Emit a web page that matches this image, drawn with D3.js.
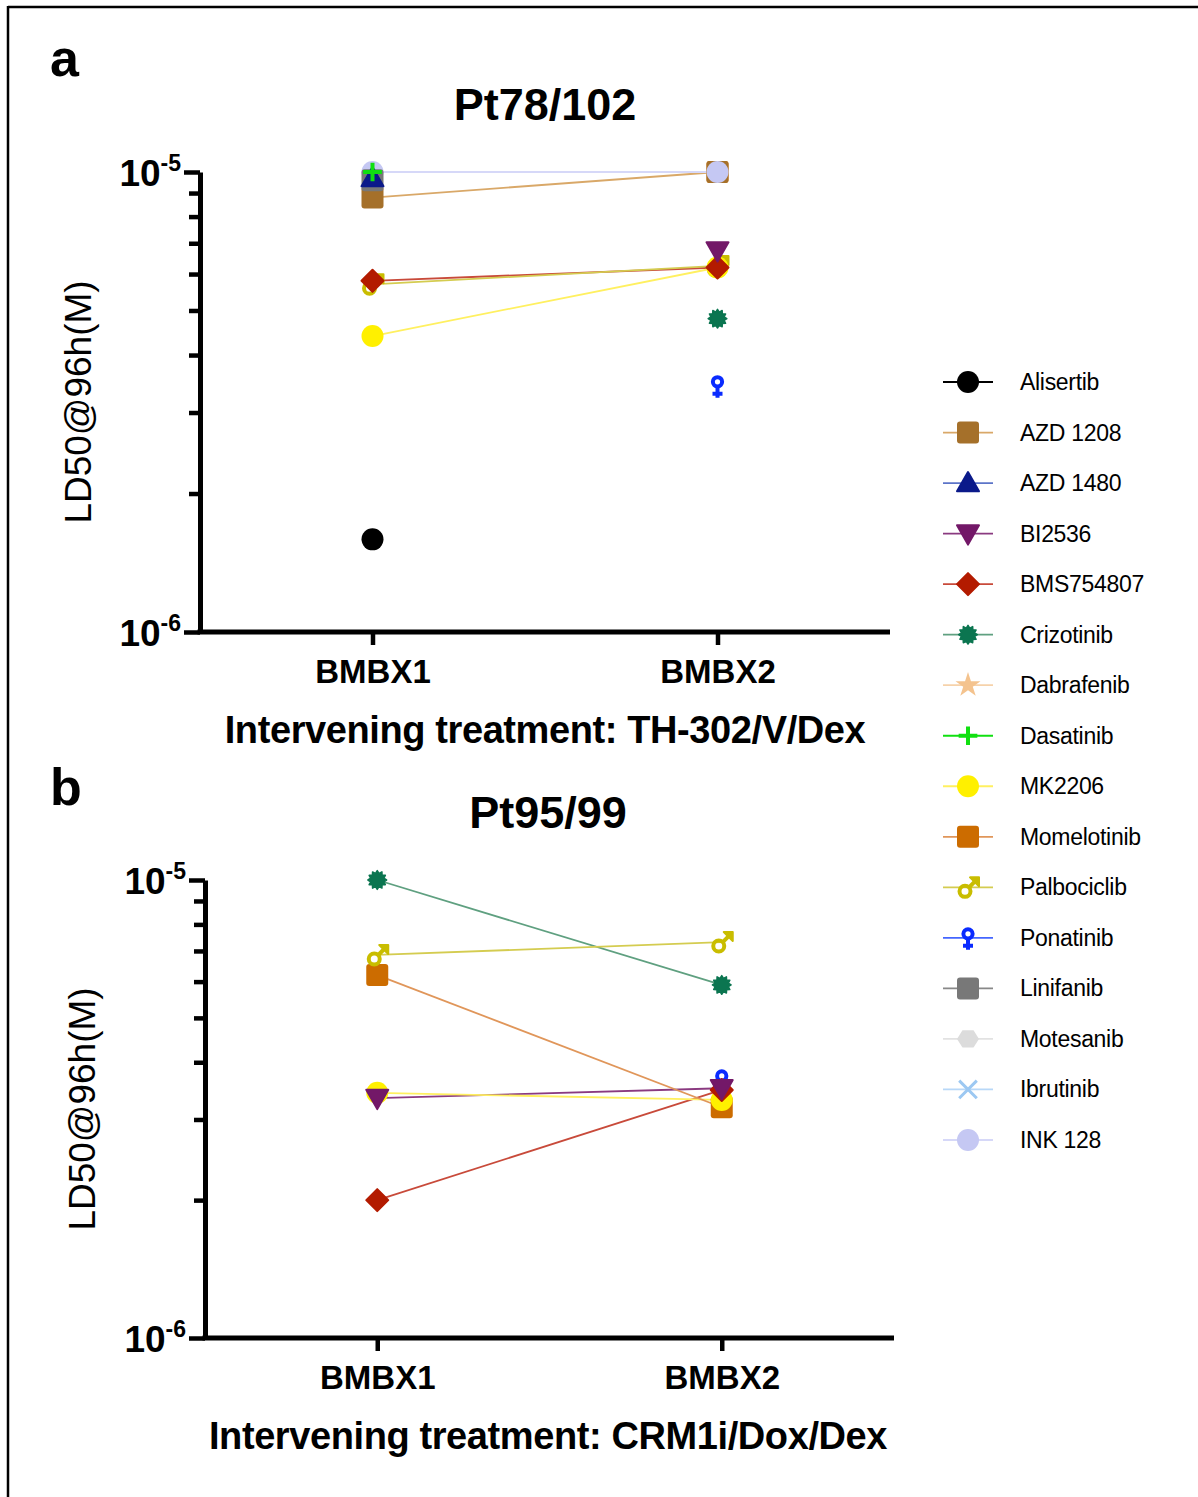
<!DOCTYPE html>
<html>
<head>
<meta charset="utf-8">
<script src="https://cdn.jsdelivr.net/npm/d3@7"></script>
<style>
  body { margin: 0; background: #fff; }
  svg { display: block; font-family: "Liberation Sans", Arial, Helvetica, sans-serif; }
</style>
</head>
<body>
<svg id="chart" width="1198" height="1497"></svg>
<script>
// drugs, in legend order
var DRUGS = ["Alisertib", "AZD 1208", "AZD 1480", "BI2536", "BMS754807", "Crizotinib", "Dabrafenib", "Dasatinib",
  "MK2206", "Momelotinib", "Palbociclib", "Ponatinib", "Linifanib", "Motesanib", "Ibrutinib", "INK 128"];
var SHAPES = ["circle", "square", "triangle", "triangleDown", "diamond", "burst", "star", "plus",
  "circle", "square", "male", "female", "square", "hexagon", "cross", "circle"];
var COLORS = ["#000000", "#a5702a", "#0b1a8a", "#731868", "#b31b00", "#0b7550", "#f4c38e", "#10e010",
  "#fff000", "#cc6c00", "#c9bd00", "#0a2bff", "#787878", "#dcdcdc", "#9cc8f2", "#c5c8f3"];
var LINE_COLORS = ["#000000", "#d9a868", "#5c74c8", "#8a3a80", "#c84a3a", "#5fa080", "#f6d2aa", "#10e010",
  "#fff060", "#e0965a", "#d4cc50", "#4466ff", "#888888", "#e2e2e2", "#b8d8f8", "#d6d8f8"];

var CATEGORIES = ["BMBX1", "BMBX2"];

// LD50 (M) per drug, null = not plotted
var PT78_BMBX1 = [1.59e-6, 8.8e-6, 9.7e-6, null, 5.8e-6, null, null, 1.0e-5, 4.4e-6, null, 5.7e-6, null, 9.6e-6, null, null, 1.0e-5];
var PT78_BMBX2 = [null, 1.0e-5, null, 6.75e-6, 6.2e-6, 4.8e-6, null, null, 6.2e-6, 1.0e-5, 6.25e-6, 3.43e-6, null, null, null, 1.0e-5];
var PT95_BMBX1 = [null, null, null, 3.34e-6, 2.0e-6, 1.0e-5, null, null, 3.43e-6, 6.2e-6, 6.86e-6, null, null, null, null, null];
var PT95_BMBX2 = [null, null, null, 3.51e-6, 3.48e-6, 5.9e-6, null, null, 3.31e-6, 3.19e-6, 7.32e-6, 3.66e-6, null, null, null, null];

var MINOR_TICKS = [2e-6, 3e-6, 4e-6, 5e-6, 6e-6, 7e-6, 8e-6, 9e-6];
var MAJOR_TICKS = [1e-6, 1e-5];

// order markers are stacked (first = bottom)
var DRAW_ORDER = [9, 1, 15, 12, 13, 14, 2, 7, 10, 8, 11, 4, 3, 5, 6, 0];

var svg = d3.select("#chart");

// frame (top and left edges only)
svg.append("line").attr("x1", 8).attr("x2", 1198).attr("y1", 7).attr("y2", 7)
  .attr("stroke", "#000").attr("stroke-width", 2.5);
svg.append("line").attr("x1", 8).attr("x2", 8).attr("y1", 6).attr("y2", 1497)
  .attr("stroke", "#000").attr("stroke-width", 2.5);

function drawMarker(g, shape, color, r) {
  if (shape === "circle") {
    g.append("circle").attr("r", r).attr("fill", color);
  } else if (shape === "square") {
    g.append("rect").attr("x", -r).attr("y", -r).attr("width", 2 * r).attr("height", 2 * r)
      .attr("rx", 3).attr("fill", color);
  } else if (shape === "triangle" || shape === "triangleDown") {
    var s = shape === "triangle" ? 1 : -1;
    g.append("path")
      .attr("d", "M0," + (-r * s) + "L" + r + "," + (r * 0.75 * s) + "L" + (-r) + "," + (r * 0.75 * s) + "Z")
      .attr("fill", color).attr("stroke", color).attr("stroke-width", 2).attr("stroke-linejoin", "round");
  } else if (shape === "diamond") {
    g.append("path")
      .attr("d", "M0," + (-r) + "L" + r + ",0L0," + r + "L" + (-r) + ",0Z")
      .attr("fill", color).attr("stroke", color).attr("stroke-width", 2).attr("stroke-linejoin", "round");
  } else if (shape === "burst") {
    var pts = [];
    for (var i = 0; i < 24; i++) {
      var a = i * Math.PI / 12, rr = i % 2 ? r * 0.62 : r * 0.85;
      pts.push([rr * Math.sin(a), -rr * Math.cos(a)]);
    }
    g.append("path").attr("d", d3.line()(pts) + "Z").attr("fill", color)
      .attr("stroke", color).attr("stroke-width", 1.5).attr("stroke-linejoin", "round");
  } else if (shape === "star") {
    g.append("path").attr("d", d3.symbol(d3.symbolStar, r * r * 1.6)()).attr("fill", color);
  } else if (shape === "plus") {
    g.append("path").attr("d", "M" + (-r * 0.85) + ",0H" + (r * 0.85) + "M0," + (-r * 0.85) + "V" + (r * 0.85))
      .attr("stroke", color).attr("stroke-width", 4);
  } else if (shape === "male") {
    g.append("circle").attr("cx", -3).attr("cy", 4).attr("r", r * 0.5)
      .attr("fill", "none").attr("stroke", color).attr("stroke-width", 4);
    g.append("path").attr("d", "M1,0L8,-7").attr("stroke", color).attr("stroke-width", 4);
    g.append("path").attr("d", "M2,-10L11,-10L11,-1Z").attr("fill", color)
      .attr("stroke", color).attr("stroke-width", 2).attr("stroke-linejoin", "round");
  } else if (shape === "female") {
    g.append("circle").attr("cx", 0).attr("cy", -4).attr("r", r * 0.42)
      .attr("fill", "none").attr("stroke", color).attr("stroke-width", 4);
    g.append("path").attr("d", "M0,1V12M-5,8H5").attr("stroke", color).attr("stroke-width", 4);
  } else if (shape === "hexagon") {
    var hex = d3.range(6).map(function (k) {
      var a = k * Math.PI / 3;
      return [r * Math.cos(a), r * 0.9 * Math.sin(a)];
    });
    g.append("path").attr("d", d3.line()(hex) + "Z").attr("fill", color);
  } else if (shape === "cross") {
    var c = r * 0.8;
    g.append("path").attr("d", "M" + (-c) + "," + (-c) + "L" + c + "," + c + "M" + c + "," + (-c) + "L" + (-c) + "," + c)
      .attr("stroke", color).attr("stroke-width", 3);
  }
}

function drawPanel(opt) {
  var x = d3.scalePoint().domain(CATEGORIES).range([opt.left, opt.right]).padding(0.5);
  var y = d3.scaleLog().domain([1e-6, 1e-5]).range([opt.bottom, opt.top]);
  var g = svg.append("g");

  // panel letter and title
  svg.append("text").attr("x", 50).attr("y", opt.letterY)
    .style("font-size", "52px").style("font-weight", "bold").text(opt.letter);
  svg.append("text").attr("x", opt.titleX).attr("y", opt.titleY).attr("text-anchor", "middle")
    .style("font-size", "45px").style("font-weight", "bold").text(opt.title);

  // y axis: minor ticks via d3 axis
  var yMinor = g.append("g").attr("transform", "translate(" + opt.left + ",0)")
    .call(d3.axisLeft(y).tickValues(MINOR_TICKS).tickSize(11).tickFormat(""));
  yMinor.select(".domain").remove();
  yMinor.selectAll(".tick line").attr("stroke", "#000").attr("stroke-width", 4.5);

  var yMajor = g.append("g").attr("transform", "translate(" + opt.left + ",0)")
    .call(d3.axisLeft(y).tickValues(MAJOR_TICKS).tickSize(16).tickSizeOuter(0).tickFormat(""));
  yMajor.select(".domain").attr("stroke", "#000").attr("stroke-width", 5);
  yMajor.selectAll(".tick line").attr("stroke", "#000").attr("stroke-width", 4.5);
  yMajor.selectAll(".tick").each(function (d) {
    var t = d3.select(this).append("text").attr("x", -19).attr("y", 13).attr("text-anchor", "end")
      .attr("fill", "#000").style("font-size", "37px").style("font-weight", "bold")
      .style("font-family", "'Liberation Sans', Arial, sans-serif");
    t.append("tspan").text("10");
    t.append("tspan").attr("dy", -15).style("font-size", "23px").text(String(Math.round(Math.log10(d))));
  });

  // x axis
  var xAx = g.append("g").attr("transform", "translate(0," + opt.bottom + ")")
    .call(d3.axisBottom(x).tickSize(13).tickSizeOuter(0));
  xAx.select(".domain").attr("stroke", "#000").attr("stroke-width", 5)
    .attr("d", "M" + (opt.left - 2.5) + ",0H" + opt.right);
  xAx.selectAll(".tick line").attr("stroke", "#000").attr("stroke-width", 4.5);
  xAx.selectAll(".tick text").attr("y", 28).attr("fill", "#000")
    .style("font-size", "33px").style("font-weight", "bold")
    .style("font-family", "'Liberation Sans', Arial, sans-serif");

  // axis titles
  svg.append("text").attr("text-anchor", "middle")
    .attr("transform", "translate(" + opt.yLabelX + "," + ((opt.top + opt.bottom) / 2) + ")rotate(-90)")
    .style("font-size", "37px").text("LD50@96h(M)");
  svg.append("text").attr("x", opt.titleX).attr("y", opt.xLabelY).attr("text-anchor", "middle")
    .style("font-size", "38px").style("font-weight", "bold").style("letter-spacing", "-0.4px").text(opt.xLabel);

  // connecting lines
  DRUGS.forEach(function (name, i) {
    var a = opt.v1[i], b = opt.v2[i];
    if (a != null && b != null) {
      g.append("line")
        .attr("x1", x("BMBX1")).attr("y1", y(a))
        .attr("x2", x("BMBX2")).attr("y2", y(b))
        .attr("stroke", LINE_COLORS[i]).attr("stroke-width", 1.8);
    }
  });

  // markers
  DRAW_ORDER.forEach(function (i) {
    [[CATEGORIES[0], opt.v1[i]], [CATEGORIES[1], opt.v2[i]]].forEach(function (p) {
      if (p[1] == null) return;
      var m = g.append("g").attr("transform", "translate(" + x(p[0]) + "," + y(p[1]) + ")");
      drawMarker(m, SHAPES[i], COLORS[i], 11);
    });
  });
}

drawPanel({
  letter: "a", letterY: 76, title: "Pt78/102", titleX: 545, titleY: 120,
  left: 200, right: 890, top: 172, bottom: 632, yLabelX: 91,
  xLabel: "Intervening treatment: TH-302/V/Dex", xLabelY: 743,
  v1: PT78_BMBX1, v2: PT78_BMBX2
});

drawPanel({
  letter: "b", letterY: 805, title: "Pt95/99", titleX: 548, titleY: 828,
  left: 205, right: 894, top: 880, bottom: 1338, yLabelX: 95,
  xLabel: "Intervening treatment: CRM1i/Dox/Dex", xLabelY: 1449,
  v1: PT95_BMBX1, v2: PT95_BMBX2
});

// legend
var legendY = d3.scalePoint().domain(DRUGS).range([382, 1140]);
var legend = svg.append("g");
DRUGS.forEach(function (name, i) {
  var row = legend.append("g").attr("transform", "translate(968," + legendY(name) + ")");
  row.append("line").attr("x1", -25).attr("x2", 25).attr("stroke", LINE_COLORS[i]).attr("stroke-width", 1.8);
  drawMarker(row.append("g"), SHAPES[i], COLORS[i], 11);
  row.append("text").attr("x", 52).attr("y", 8)
    .style("font-size", "23px").style("letter-spacing", "-0.3px").text(name);
});
</script>
</body>
</html>
